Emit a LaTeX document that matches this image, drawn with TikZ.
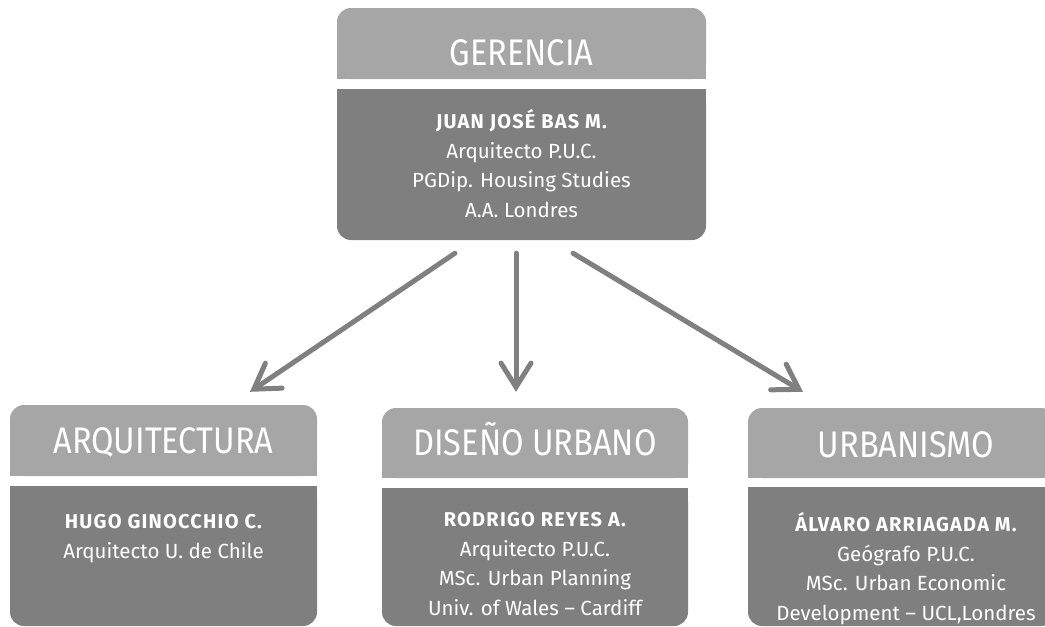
\documentclass[tikz,border=0pt]{standalone}
\usepackage{fontspec}
\setmainfont{Fira Sans}
\newfontfamily\headfont[FakeStretch=0.88]{Fira Sans}
\newfontfamily\namefont[LetterSpace=6]{Fira Sans}
\usepackage{tikz}
\usetikzlibrary{arrows.meta}

\definecolor{headgray}{HTML}{A6A6A6}
\definecolor{bodygray}{HTML}{7F7F7F}
\definecolor{arrowgray}{HTML}{808080}

\newcommand{\persona}[1]{{\namefont\bfseries\fontsize{20}{29.5}\selectfont #1}}

\tikzset{
  headbox/.style={fill=headgray, rounded corners=14pt, minimum width=307pt, minimum height=71pt, inner sep=0pt},
  bodybox/.style={fill=bodygray, rounded corners=14pt, minimum width=307pt, inner sep=0pt},
  headtext/.style={text=white, anchor=base, inner sep=0pt, font=\headfont\fontsize{37}{40}\selectfont},
  infotext/.style={text=white, anchor=base, align=center, inner sep=0pt, font=\fontsize{20.5}{29.5}\selectfont},
  orgarrow/.style={draw=arrowgray, line width=5pt, line cap=round, -{Straight Barb[length=24pt,width=30pt,line cap=round]}},
}

\begin{document}
\begin{tikzpicture}[x=1pt, y=-1pt]
        \clip (0,0) rectangle (1045,627);

        % Gerencia
        \node[headbox, minimum width=369pt] (gerhead) at (521.5,43.5) {};
        \fill[headgray] (gerhead.west) rectangle (gerhead.south east);
        \node[bodybox, minimum width=369pt, minimum height=151pt] (gerbody) at (521.5,164.5) {};
        \fill[bodygray] (gerbody.north west) rectangle (gerbody.east);
        \node[headtext] (gertitle) at (521.5,65) {GERENCIA};
        \node[infotext] (gerinfo) at (521.5,217) {\persona{JUAN JOSÉ BAS M.}\\Arquitecto P.U.C.\\PGDip. Housing Studies\\A.A. Londres};

        % Arquitectura
        \node[headbox] (arqhead) at (163.5,440.5) {};
        \fill[headgray] (arqhead.west) rectangle (arqhead.south east);
        \node[bodybox, minimum height=140pt] (arqbody) at (163.5,556) {};
        \fill[bodygray] (arqbody.north west) rectangle (arqbody.east);
        \node[headtext] (arqtitle) at (163.5,453) {ARQUITECTURA};
        \node[infotext] (arqinfo) at (163.5,558) {\persona{HUGO GINOCCHIO C.}\\Arquitecto U. de Chile};

        % Diseno urbano
        \node[headbox, minimum width=306pt, minimum height=70pt] (dishead) at (535,443) {};
        \fill[headgray] (dishead.west) rectangle (dishead.south east);
        \node[bodybox, minimum width=306pt, minimum height=138pt] (disbody) at (535,557) {};
        \fill[bodygray] (disbody.north west) rectangle (disbody.east);
        \node[headtext] (distitle) at (535,455) {DISEÑO URBANO};
        \node[infotext] (disinfo) at (535,615) {\persona{RODRIGO REYES A.}\\Arquitecto P.U.C.\\MSc. Urban Planning\\Univ. of Wales -- Cardiff};

        % Urbanismo (cut off at the right edge)
        \node[headbox, minimum height=70pt] (urbhead) at (901.5,443) {};
        \fill[headgray] (urbhead.west) rectangle (urbhead.south east);
        \node[bodybox, minimum height=139pt] (urbbody) at (901.5,556.5) {};
        \fill[bodygray] (urbbody.north west) rectangle (urbbody.east);
        \node[headtext] (urbtitle) at (906,457) {URBANISMO};
        \node[infotext] (urbinfo) at (906,620) {\persona{ÁLVARO ARRIAGADA M.}\\Geógrafo P.U.C.\\MSc. Urban Economic\\Development -- UCL,Londres};

        % Arrows
        \draw[orgarrow] ([xshift=-66.5pt, yshift=-13pt]gerbody.south) -- ([xshift=86.5pt, yshift=13pt]arqhead.north);
        \draw[orgarrow] ([xshift=-5.5pt, yshift=-13pt]gerbody.south) -- ([xshift=-19pt, yshift=16pt]dishead.north);
        \draw[orgarrow] ([xshift=51.5pt, yshift=-13pt]gerbody.south) -- ([xshift=-98.5pt, yshift=16pt]urbhead.north);
    \end{tikzpicture}
\end{document}
